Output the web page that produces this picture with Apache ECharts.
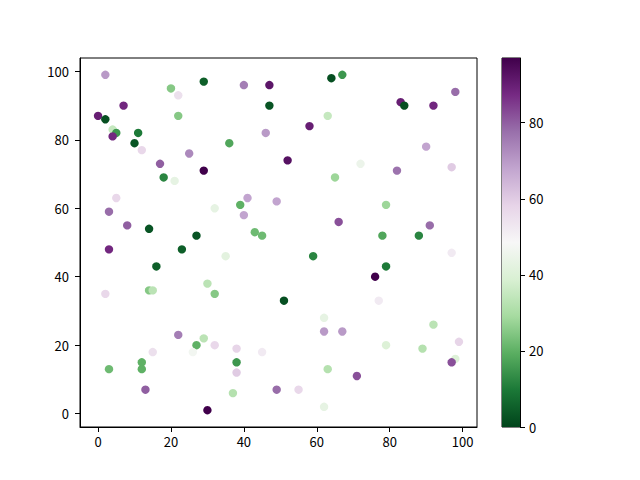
<!DOCTYPE html>
<html>
<head>
<meta charset="utf-8">
<script src="https://cdn.jsdelivr.net/npm/echarts@6/dist/echarts.min.js"></script>
<style>
  html, body { margin: 0; padding: 0; background: #fff; }
  #chart { width: 640px; height: 480px; }
</style>
</head>
<body>
<div id="chart"></div>
<script>
// scatter points: x, y and colour value
var xs = [2, 29, 20, 22, 40, 47, 7, 47, 0, 2, 22, 4, 5, 4, 11, 10, 12, 46, 36, 25, 17, 29, 18, 21, 5, 3, 32, 39, 41, 40, 49, 8, 14, 27, 43, 45,
  64, 67, 83, 84, 92, 98, 63, 58, 90, 52, 72, 82, 97, 65, 79, 66, 91, 78, 88,
  3, 23, 35, 16, 2, 14, 15, 30, 32, 22, 29, 27, 32, 15, 26, 38, 45, 12, 12, 3, 38, 38, 13, 37, 49, 30,
  59, 97, 79, 76, 51, 77, 62, 62, 67, 92, 99, 79, 89, 98, 97, 63, 71, 55, 62];
var ys = [99, 97, 95, 93, 96, 96, 90, 90, 87, 86, 87, 83, 82, 81, 82, 79, 77, 82, 79, 76, 73, 71, 69, 68, 63, 59, 60, 61, 63, 58, 62, 55, 54, 52, 53, 52,
  98, 99, 91, 90, 90, 94, 87, 84, 78, 74, 73, 71, 72, 69, 61, 56, 55, 52, 52,
  48, 48, 46, 43, 35, 36, 36, 38, 35, 23, 22, 20, 20, 18, 18, 19, 18, 15, 13, 13, 15, 12, 7, 6, 7, 1,
  46, 47, 43, 40, 33, 33, 28, 24, 24, 26, 21, 20, 19, 16, 15, 13, 11, 7, 2];
var cs = [70, 5, 25, 55, 75, 92, 88, 3, 90, 2, 25, 35, 15, 88, 10, 3, 57, 70, 18, 73, 80, 97, 12, 43, 57, 78, 43, 20, 68, 68, 68, 80, 3, 3, 22, 22,
  2, 15, 90, 2, 88, 78, 35, 90, 68, 93, 45, 77, 60, 28, 28, 82, 78, 18, 12,
  88, 5, 42, 5, 57, 25, 33, 33, 25, 75, 33, 20, 57, 55, 47, 58, 52, 20, 20, 22, 15, 60, 80, 32, 78, 97,
  12, 52, 10, 97, 2, 52, 43, 70, 70, 33, 58, 40, 32, 40, 82, 32, 82, 57, 43];

var xTicks = [0, 20, 40, 60, 80, 100];
var yTicks = [0, 20, 40, 60, 80, 100];
var cMin = 0, cMax = 97;

// PRGn_r
var cmap = ['#00441b', '#1b7837', '#5aae61', '#a6dba0', '#d9f0d3', '#f7f7f7',
  '#e7d4e8', '#c2a5cf', '#9970ab', '#762a83', '#40004b'];

var pts = xs.map(function(x, i) { return [x, ys[i], cs[i]]; });
var stops = cmap.map(function(c, i) { return { offset: i / (cmap.length - 1), color: c }; });

var font = '"Noto Sans CJK SC", "Noto Sans", sans-serif';
var lab = { color: '#000', fontSize: 13, fontFamily: font };

var chart = echarts.init(document.getElementById('chart'), null, { renderer: 'svg' });
chart.setOption({
  animation: false,
  backgroundColor: '#fff',
  grid: [
    { left: 80, top: 58, width: 397, height: 369, show: true, borderColor: '#000', borderWidth: 1, containLabel: false },
    { left: 502, top: 58, width: 18, height: 369, show: true, borderColor: '#000', borderWidth: 1, containLabel: false }
  ],
  xAxis: [
    {
      gridIndex: 0, type: 'value', min: -4.95, max: 103.95,
      axisLine: { show: true, onZero: false, lineStyle: { color: '#000' } },
      axisTick: { show: true, inside: false, length: 5, lineStyle: { color: '#000' }, customValues: xTicks },
      axisLabel: Object.assign({ margin: 8, customValues: xTicks }, lab),
      splitLine: { show: false }
    },
    {
      gridIndex: 1, type: 'category', data: ['c'],
      axisLine: { show: false }, axisTick: { show: false }, axisLabel: { show: false }
    }
  ],
  yAxis: [
    {
      gridIndex: 0, type: 'value', min: -3.9, max: 103.9,
      axisLine: { show: true, onZero: false, lineStyle: { color: '#000' } },
      axisTick: { show: true, inside: false, length: 5, lineStyle: { color: '#000' }, customValues: yTicks },
      axisLabel: Object.assign({ margin: 11, customValues: yTicks }, lab),
      splitLine: { show: false }
    },
    {
      gridIndex: 1, type: 'value', position: 'right', min: cMin, max: cMax, interval: 20,
      axisLine: { show: true, lineStyle: { color: '#000' } },
      axisTick: { show: true, inside: false, length: 5, lineStyle: { color: '#000' } },
      axisLabel: Object.assign({ margin: 9, showMaxLabel: false }, lab),
      splitLine: { show: false }
    }
  ],
  visualMap: {
    show: false, type: 'continuous', seriesIndex: 0, dimension: 2,
    min: cMin, max: cMax, inRange: { color: cmap }
  },
  series: [
    {
      type: 'scatter', xAxisIndex: 0, yAxisIndex: 0,
      symbolSize: 8.4, data: pts,
      itemStyle: { opacity: 1 }
    },
    {
      // colorbar
      type: 'bar', xAxisIndex: 1, yAxisIndex: 1,
      barWidth: '100%', data: [cMax], silent: true,
      itemStyle: { color: { type: 'linear', x: 0, y: 1, x2: 0, y2: 0, colorStops: stops } }
    }
  ]
});
</script>
</body>
</html>
